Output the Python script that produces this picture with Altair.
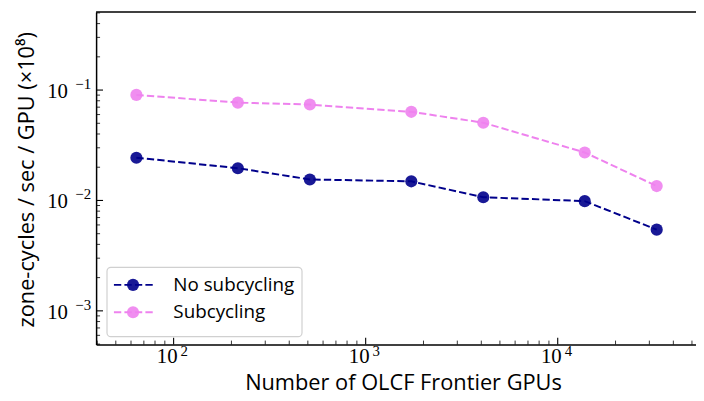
import altair as alt
import pandas as pd

# ---- data ----
gpus = [64, 216, 512, 1728, 4096, 13824, 32768]
no_subcycling = [0.0244, 0.0196, 0.0155, 0.0149, 0.0107, 0.00986, 0.00544]
subcycling = [0.0904, 0.0770, 0.0739, 0.0635, 0.0506, 0.0272, 0.0135]
series = ["No subcycling", "Subcycling"]
colors = ["#00008b", "#ee82ee"]

x_major = [100, 1000, 10000]
x_exp = ["2", "3", "4"]
y_major = [0.001, 0.01, 0.1]
y_exp = ["−3", "−2", "−1"]

# ---- layout ----
W, H = 606, 336
XDOM = [39.48, 52480]
YDOM = [4.95e-4, 0.51]
SANS = "Open Sans"
SERIF = "Liberation Serif"
TXT = "black"

x_minor = [m * 10 ** e for e in range(1, 5) for m in range(2, 10)
           if XDOM[0] <= m * 10 ** e <= XDOM[1]]
y_minor = [m * 10.0 ** e for e in range(-4, 0) for m in range(2, 10)
           if YDOM[0] <= m * 10.0 ** e <= YDOM[1]]

df = pd.DataFrame({
    "gpus": gpus * 2,
    "val": no_subcycling + subcycling,
    "series": [series[0]] * len(gpus) + [series[1]] * len(gpus),
})

xs = alt.Scale(type="log", domain=XDOM, nice=False)
ys = alt.Scale(type="log", domain=YDOM, nice=False)

xaxis = alt.Axis(
    values=x_major, labels=False, ticks=False, grid=False,
    domainColor="black", domainWidth=1.5,
    title="Number of OLCF Frontier GPUs", titleFont=SANS, titleFontSize=22,
    titleFontWeight="normal", titleColor=TXT,
    titleX=310, titleY=38, titleBaseline="middle",
)
yaxis = alt.Axis(
    values=y_major, labels=False, ticks=False, grid=False,
    domainColor="black", domainWidth=1.5,
    title="zone-cycles / sec / GPU (×10⁸)", titleFont=SANS, titleFontSize=22,
    titleFontWeight="normal", titleColor=TXT,
    titleX=-70, titleY=H / 2 + 1, titleBaseline="middle", titleAngle=-90,
)

X = alt.X("gpus:Q", scale=xs, axis=xaxis)
Y = alt.Y("val:Q", scale=ys, axis=yaxis)
color = alt.Color("series:N", scale=alt.Scale(domain=series, range=colors), legend=None)

base = alt.Chart(df)
lines = base.mark_line(strokeDash=[7.4, 3.2], strokeWidth=2).encode(x=X, y=Y, color=color)
points = base.mark_circle(size=150, opacity=0.9).encode(x=X, y=Y, color=color)

# inward ticks
xt_major = alt.Chart(pd.DataFrame({"gpus": x_major})).mark_rule(color="black", strokeWidth=1.1).encode(
    x=X, y=alt.value(H), y2=alt.value(H - 7))
xt_minor = alt.Chart(pd.DataFrame({"gpus": x_minor})).mark_rule(color="black", strokeWidth=0.8).encode(
    x=X, y=alt.value(H), y2=alt.value(H - 4))
yt_major = alt.Chart(pd.DataFrame({"val": y_major})).mark_rule(color="black", strokeWidth=1.1).encode(
    y=Y, x=alt.value(0), x2=alt.value(7))
yt_minor = alt.Chart(pd.DataFrame({"val": y_minor})).mark_rule(color="black", strokeWidth=0.8).encode(
    y=Y, x=alt.value(0), x2=alt.value(4))

# tick labels as 10 + superscript exponent
xl = pd.DataFrame({"gpus": x_major, "exp": x_exp})
xl_base = alt.Chart(xl).mark_text(text="10", font=SERIF, fontSize=21, align="right",
                                  baseline="alphabetic", dx=4, color=TXT).encode(
    x=X, y=alt.value(H + 19))
xl_exp = alt.Chart(xl).mark_text(font=SERIF, fontSize=15, align="left",
                                 baseline="alphabetic", dx=7, color=TXT).encode(
    x=X, y=alt.value(H + 11.5), text="exp:N")
yl = pd.DataFrame({"val": y_major, "exp": y_exp})
yl_base = alt.Chart(yl).mark_text(text="10", font=SERIF, fontSize=21, align="right",
                                  baseline="alphabetic", dy=8, color=TXT).encode(
    y=Y, x=alt.value(-28.5))
yl_exp = alt.Chart(yl).mark_text(font=SERIF, fontSize=15, align="right",
                                 baseline="alphabetic", dy=-1, color=TXT).encode(
    y=Y, x=alt.value(-5), text="exp:N")

one = pd.DataFrame({"a": [0]})
top_spine = alt.Chart(one).mark_rule(color="black", strokeWidth=1.5).encode(
    x=alt.value(0), x2=alt.value(W), y=alt.value(0))

# legend
leg_box = alt.Chart(one).mark_rect(fill="white", stroke="#cccccc", strokeWidth=1.2,
                                   cornerRadius=4, opacity=0.9).encode(
    x=alt.value(11), x2=alt.value(208), y=alt.value(258), y2=alt.value(328))
leg_layers = []
for i, (name, col) in enumerate(zip(series, colors)):
    yy = 275.7 + i * 27.6
    d = pd.DataFrame({"series": [name]})
    leg_layers.append(alt.Chart(d).mark_rule(strokeDash=[7.4, 3.2], strokeWidth=2, color=col).encode(
        x=alt.value(18), x2=alt.value(60), y=alt.value(yy)))
    leg_layers.append(alt.Chart(d).mark_circle(size=150, opacity=0.9, color=col).encode(
        x=alt.value(37.3), y=alt.value(yy)))
    leg_layers.append(alt.Chart(d).mark_text(align="left", baseline="middle", font=SANS,
                                             fontSize=19, color=TXT).encode(
        x=alt.value(78), y=alt.value(yy), text="series:N"))

chart = alt.layer(
    lines, points, xt_major, xt_minor, yt_major, yt_minor, top_spine,
    xl_base, xl_exp, yl_base, yl_exp, leg_box, *leg_layers
).properties(
    width=W, height=H,
    padding={"left": 89, "top": 2, "right": 0, "bottom": 53},
    autosize=alt.AutoSizeParams(type="none"),
).configure_view(stroke=None)

chart.save("out.html", embed_options={"renderer": "svg", "actions": False})
